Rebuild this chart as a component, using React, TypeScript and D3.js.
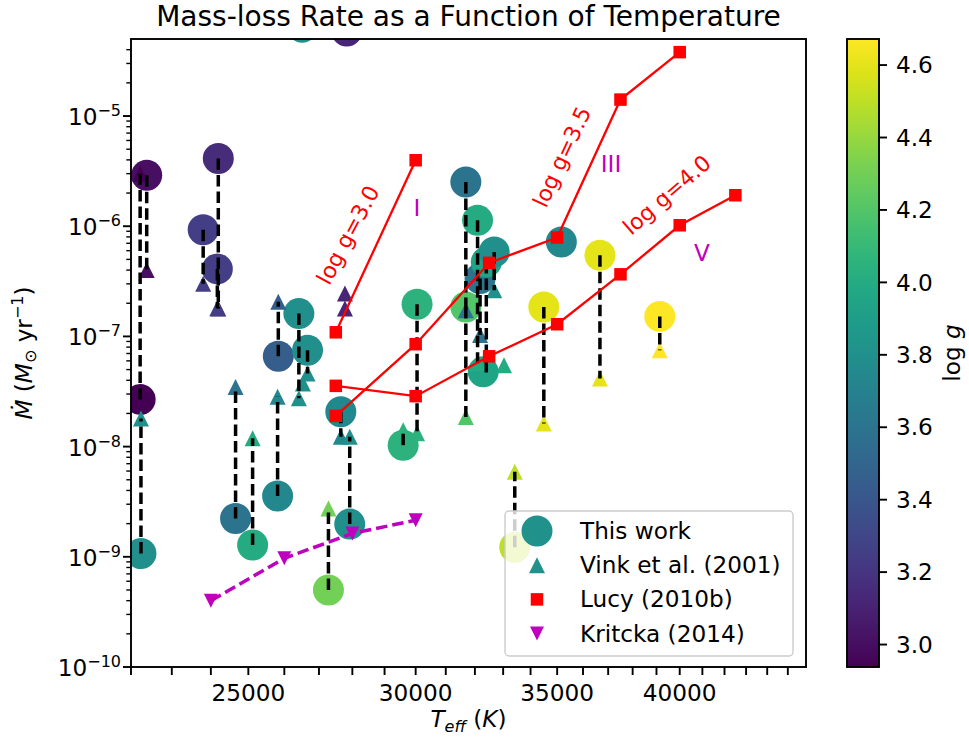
import React from 'react';
import * as d3 from 'd3';

const W = 969;
const H = 747;
const plot = { left: 131, right: 806, top: 39, bottom: 667 };
const cbar = { left: 847, right: 879 };
const FONT = 'DejaVu Sans';
const FS = 23.2;

// one entry per star: Teff, log g, this work Mdot, Vink et al. (2001) Mdot (null = not plotted)
const starTeff = [22380, 22220, 22240, 24195, 23800, 24170, 24655, 25117, 25830, 25810, 26415, 26666, 26510, 26530, 27280, 27650, 27920, 27830, 27775, 27775, 29594, 30045, 31685, 31685, 32093, 32180, 32400, 32290, 32680, 33030, 33420, 34495, 35160, 36670, 39140];
const starLogg = [3.0, 2.938, 3.8, 3.15, 3.25, 3.25, 3.6, 4.0, 3.45, 3.75, 3.8, 3.8, 3.8, 3.8, 4.3, 3.75, 3.8, 3.12, 3.12, 3.12, 4.05, 4.05, 3.6, 4.2, 4.0, 3.6, 3.95, 3.95, 3.8, 4.0, 4.5, 4.6, 3.75, 4.6, 4.672];
const thisWork = [2.9e-6, 2.68e-8, 1.07e-9, 4.11e-6, 9.3e-7, 4.1e-7, 2.23e-9, 1.28e-9, 6.6e-8, 3.56e-9, 1.61e-7, 7.5e-8, 6.4e-5, null, 5.0e-10, 2.07e-8, 1.98e-9, 5.9e-5, null, null, 1.03e-8, 1.96e-7, 2.52e-6, 1.85e-7, 1.13e-6, 3.35e-7, 4.74e-7, 4.77e-8, 5.85e-7, null, 1.22e-9, 1.85e-7, 7.19e-7, 5.46e-7, 1.52e-7];
const vinkMdot = [4.0e-7, 3.0e-6, 1.8e-8, 1.79e-7, 3.0e-7, 1.8e-7, 3.48e-8, 1.19e-8, 2.06e-7, 2.83e-8, 2.74e-8, 4.6e-8, null, 3.74e-8, 2.75e-9, 1.23e-8, 1.23e-8, null, 2.45e-7, 1.79e-7, 1.41e-8, 1.32e-8, 1.73e-7, 1.86e-8, 5.7e-8, 1.03e-7, 4.7e-8, null, 2.62e-7, 5.48e-8, 5.9e-9, 1.62e-8, null, 4.15e-8, 7.5e-8];

// Lucy (2010b) model grid
const lucyTeff = [27500, 30000, 32500, 35000, 37500, 40000, 42500];
const lucyG30 = [1.09e-7, 3.97e-6];
const lucyG35 = [1.9e-8, 8.5e-8, 4.65e-7, 7.9e-7, 1.41e-5, 3.8e-5];
const lucyG40 = [3.56e-8, 2.87e-8, 6.6e-8, 1.29e-7, 3.66e-7, 1.02e-6, 1.91e-6];

// Kritcka (2014)
const kritTeff = [24000, 26000, 28000, 30000];
const kritMdot = [4.0e-10, 9.7e-10, 1.63e-9, 2.15e-9];

const xTicks = d3.range(22000, 46000, 1000);
const xLabels = [25000, 30000, 35000, 40000];
const yDecades = [-10, -9, -8, -7, -6, -5];
const cbTicks = [3.0, 3.2, 3.4, 3.6, 3.8, 4.0, 4.2, 4.4, 4.6];
const legendLabels = ['This work', 'Vink et al. (2001)', 'Lucy (2010b)', 'Kritcka (2014)'];

const x = d3.scaleLog().domain([22000, 45900]).range([plot.left, plot.right]);
const y = d3.scaleLog().domain([1e-10, 5e-5]).range([plot.bottom, plot.top]);
const color = d3.scaleSequential(d3.interpolateViridis).domain(d3.extent(starLogg) as [number, number]);
const cy = d3.scaleLinear().domain(color.domain()).range([plot.bottom, plot.top]);

const triUp = (px: number, py: number, s: number) =>
  `M${px},${py - s / 2}L${px - s / 2},${py + s / 2}L${px + s / 2},${py + s / 2}Z`;
const triDown = (px: number, py: number, s: number) =>
  `M${px - s / 2},${py - s / 2}L${px + s / 2},${py - s / 2}L${px},${py + s / 2}Z`;

const lucyLine = d3.line<number>().x((_, i) => x(lucyTeff[i])).y(d => y(d));
const kritLine = d3.line<number>().x((_, i) => x(kritTeff[i])).y(d => y(d));

const stars = starTeff.map((t, i) => ({ t, g: starLogg[i], mine: thisWork[i], vink: vinkMdot[i] }));
const minorY: number[] = [];
yDecades.forEach(k => d3.range(2, 10).forEach(m => { const v = m * Math.pow(10, k); if (v < 5e-5) minorY.push(v); }));

const RED = '#ff0000';
const MAG = '#bf00bf';

export default function App() {
  const gradStops = d3.range(0, 1.0001, 0.05);
  return (
    <svg width={W} height={H} style={{ position: 'absolute', left: 0, top: 0, background: '#fff' }}
      fontFamily={FONT}>
      <defs>
        <clipPath id="plotclip">
          <rect x={plot.left} y={plot.top} width={plot.right - plot.left} height={plot.bottom - plot.top} />
        </clipPath>
        <linearGradient id="viridis" x1="0" y1="1" x2="0" y2="0">
          {gradStops.map(s => <stop key={s} offset={s} stopColor={d3.interpolateViridis(s)} />)}
        </linearGradient>
      </defs>
      <rect width={W} height={H} fill="#fff" />

      <g clipPath="url(#plotclip)">
        {/* this work */}
        {stars.filter(s => s.mine != null).map((s, i) =>
          <circle key={'c' + i} cx={x(s.t)} cy={y(s.mine as number)} r={15.5} fill={color(s.g)} />)}
        {/* Vink et al. */}
        {stars.filter(s => s.vink != null).map((s, i) =>
          <path key={'v' + i} d={triUp(x(s.t), y(s.vink as number), 16)} fill={color(s.g)} />)}
        {/* connectors */}
        {stars.filter(s => s.mine != null && s.vink != null).map((s, i) =>
          <line key={'l' + i} x1={x(s.t)} x2={x(s.t)} y1={y(s.mine as number)} y2={y(s.vink as number)}
            stroke="#000" strokeWidth={3.5} strokeDasharray="11.5,5" />)}
        {/* Lucy */}
        {[lucyG30, lucyG35, lucyG40].map((ser, j) => (
          <g key={'lu' + j}>
            <path d={lucyLine(ser) as string} fill="none" stroke={RED} strokeWidth={2.3} />
            {ser.map((v, i) => <rect key={i} x={x(lucyTeff[i]) - 6.25} y={y(v) - 6.25} width={12.5} height={12.5} fill={RED} />)}
          </g>
        ))}
        {/* Kritcka */}
        <path d={kritLine(kritMdot) as string} fill="none" stroke={MAG} strokeWidth={3.5} strokeDasharray="11.5,5" />
        {kritMdot.map((v, i) => <path key={'k' + i} d={triDown(x(kritTeff[i]), y(v), 14)} fill={MAG} />)}
      </g>

      {/* annotations */}
      <g fill={RED} fontSize={22} textAnchor="middle" dominantBaseline="central">
        <text transform="translate(348,235) rotate(-62)">log g=3.0</text>
        <text transform="translate(562,157) rotate(-65)">log g=3.5</text>
        <text transform="translate(667,195) rotate(-41)">log g=4.0</text>
      </g>
      <g fill={MAG} fontSize={FS} textAnchor="middle" dominantBaseline="central">
        <text x={417} y={207}>I</text>
        <text x={611} y={163}>III</text>
        <text x={702} y={252}>V</text>
      </g>

      {/* axes frame */}
      <rect x={plot.left} y={plot.top} width={plot.right - plot.left} height={plot.bottom - plot.top}
        fill="none" stroke="#000" strokeWidth={1.9} />

      {/* x ticks */}
      {xTicks.map(t => <line key={'xt' + t} x1={x(t)} x2={x(t)} y1={plot.bottom} y2={plot.bottom + 8} stroke="#000" strokeWidth={1.9} />)}
      {xLabels.map(t => <text key={'xl' + t} x={x(t)} y={701} textAnchor="middle" fontSize={FS}>{t}</text>)}
      <text x={(plot.left + plot.right) / 2} y={727} textAnchor="middle" fontSize={FS}>
        <tspan fontStyle="italic">T</tspan>
        <tspan fontStyle="italic" fontSize={16} dy={5}>eff</tspan>
        <tspan dy={-5}> (</tspan>
        <tspan fontStyle="italic">K</tspan>
        <tspan>)</tspan>
      </text>

      {/* y ticks */}
      {minorY.map(v => <line key={'ym' + v} x1={plot.left - 4.7} x2={plot.left} y1={y(v)} y2={y(v)} stroke="#000" strokeWidth={1.4} />)}
      {yDecades.map(k => (
        <g key={'yd' + k}>
          <line x1={plot.left - 8} x2={plot.left} y1={y(Math.pow(10, k))} y2={y(Math.pow(10, k))} stroke="#000" strokeWidth={1.9} />
          <text x={121} y={y(Math.pow(10, k)) + 9} textAnchor="end" fontSize={FS}>
            <tspan>10</tspan>
            <tspan fontSize={16} dy={-9}>{'\u2212' + Math.abs(k)}</tspan>
          </text>
        </g>
      ))}
      <text transform={`translate(32,${(plot.top + plot.bottom) / 2}) rotate(-90)`} textAnchor="middle" fontSize={FS}>
        <tspan fontStyle="italic">{'\u1E40'}</tspan>
        <tspan> (</tspan>
        <tspan fontStyle="italic">M</tspan>
        <tspan fontSize={16} dy={4}>{'\u2299'}</tspan>
        <tspan dy={-4}> yr</tspan>
        <tspan fontSize={16} dy={-9}>{'\u22121'}</tspan>
        <tspan dy={9}>)</tspan>
      </text>

      {/* title */}
      <text x={(plot.left + plot.right) / 2} y={26} textAnchor="middle" fontSize={28}>
        Mass-loss Rate as a Function of Temperature
      </text>

      {/* legend */}
      <g>
        <rect x={505} y={511} width={288} height={145} rx={4} fill="#fff" fillOpacity={0.8} stroke="#cccccc" strokeWidth={1.4} />
        <circle cx={537} cy={531} r={15.5} fill={color(3.81)} />
        <path d={triUp(537, 565.2, 16)} fill={color(3.81)} />
        <rect x={537 - 6.25} y={599.4 - 6.25} width={12.5} height={12.5} fill={RED} />
        <path d={triDown(537, 633.6, 14)} fill={MAG} />
        {legendLabels.map((s, i) =>
          <text key={s} x={580} y={531 + i * 34.2 + 8} fontSize={FS}>{s}</text>)}
      </g>

      {/* colorbar */}
      <rect x={cbar.left} y={plot.top} width={cbar.right - cbar.left} height={plot.bottom - plot.top} fill="url(#viridis)" stroke="#000" strokeWidth={1.9} />
      {cbTicks.map(t => (
        <g key={'cb' + t}>
          <line x1={cbar.right} x2={cbar.right + 8} y1={cy(t)} y2={cy(t)} stroke="#000" strokeWidth={1.9} />
          <text x={896} y={cy(t) + 8.2} fontSize={FS}>{t.toFixed(1)}</text>
        </g>
      ))}
      <text transform={`translate(960,${(plot.top + plot.bottom) / 2}) rotate(-90)`} textAnchor="middle" fontSize={FS}>
        <tspan>log </tspan><tspan fontStyle="italic">g</tspan>
      </text>
    </svg>
  );
}
